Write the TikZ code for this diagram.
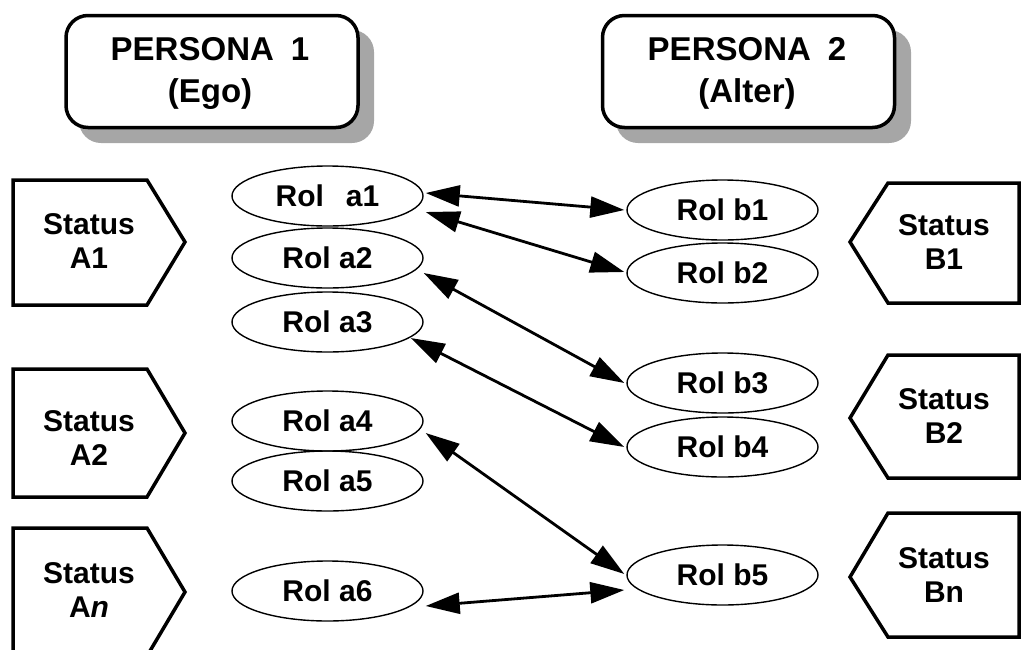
\documentclass[tikz,border=0pt]{standalone}
\usepackage{fontspec}
\setmainfont{Liberation Sans}
\usetikzlibrary{arrows.meta,shapes.geometric}

\begin{document}
\begin{tikzpicture}[x=1pt,y=-1pt,
  rolebox/.style={draw,ellipse,line width=1.4pt,minimum width=191pt,minimum height=60pt,
    inner sep=0pt,font=\fontsize{30}{34}\selectfont\bfseries},
  statustext/.style={align=center,inner sep=0pt,font=\fontsize{30}{34}\selectfont\bfseries},
  statusbox/.style={draw,line width=3.5pt,line join=miter},
  personabox/.style={draw,line width=3.5pt,rounded corners=22pt,minimum width=292pt,
    minimum height=112pt,fill=white},
  personatext/.style={align=center,inner sep=0pt,font=\fontsize{33}{42}\selectfont\bfseries},
  shadowfill/.style={fill=black!35,rounded corners=22pt},
  link/.style={line width=2.8pt,
    {Triangle[length=34pt,width=21pt]}-{Triangle[length=34pt,width=21pt]}}
]
\useasboundingbox (0,0) rectangle (1023,649);
\clip (0,0) rectangle (1023,649);

% person boxes with their drop shadows
\fill[shadowfill] (79,30) rectangle (374,143);
\fill[shadowfill] (616,30) rectangle (911,143);
\node[personabox] (p1) at (212,71.5) {};
\node[personabox] (p2) at (748.5,71.5) {};
\node[personatext] (p1t) at (210,73) {PERSONA\hspace{17pt}1\\(Ego)};
\node[personatext] (p2t) at (747,73) {PERSONA\hspace{17pt}2\\(Alter)};

% status tags, left column points right
\draw[statusbox] (13,180) -- (147,180) -- (185,242) -- (147,305) -- (13,305) -- cycle;
\draw[statusbox] (13,369) -- (147,369) -- (185,433) -- (147,497) -- (13,497) -- cycle;
\draw[statusbox] (13,670) -- (13,528) -- (147,528) -- (185,592) -- (147,656);
\node[statustext] (sA1) at (89,241) {Status\\A1};
\node[statustext] (sA2) at (89,438) {Status\\A2};
\node[statustext] (sAn) at (89,590) {Status\\A\textit{n}};

% status tags, right column points left
\draw[statusbox] (1019,183) -- (888,183) -- (850,242) -- (888,303) -- (1019,303) -- cycle;
\draw[statusbox] (1019,355) -- (888,355) -- (850,418) -- (888,478) -- (1019,478) -- cycle;
\draw[statusbox] (1019,513) -- (888,513) -- (850,577) -- (888,637) -- (1019,637) -- cycle;
\node[statustext] (sB1) at (944,242) {Status\\B1};
\node[statustext] (sB2) at (944,416) {Status\\B2};
\node[statustext] (sBn) at (944,575) {Status\\Bn};

% roles of person 1
\node[rolebox] (a1) at (327.5,196) {Rol\hspace{22pt}a1};
\node[rolebox] (a2) at (327.5,258) {Rol a2};
\node[rolebox] (a3) at (327.5,322) {Rol a3};
\node[rolebox] (a4) at (327.5,421) {Rol a4};
\node[rolebox] (a5) at (327.5,481) {Rol a5};
\node[rolebox] (a6) at (327.5,591) {Rol a6};

% roles of person 2
\node[rolebox] (b1) at (722.5,210) {Rol b1};
\node[rolebox] (b2) at (722.5,273) {Rol b2};
\node[rolebox] (b3) at (722.5,383) {Rol b3};
\node[rolebox] (b4) at (722.5,447) {Rol b4};
\node[rolebox] (b5) at (722.5,575) {Rol b5};

% reciprocal role relations
\draw[link] ([shift={(2,-3)}]a1.east) -- ([shift={(-2,0)}]b1.west);
\draw[link] ([shift={(2,16)}]a1.east) -- ([shift={(-2,-1)}]b2.west);
\draw[link] ([shift={(0,15)}]a2.east) -- ([shift={(-2,0)}]b3.west);
\draw[link] ([shift={(-13,16)}]a3.east) -- ([shift={(-2,0)}]b4.west);
\draw[link] ([shift={(2,12)}]a4.east) -- ([shift={(-2,-1)}]b5.west);
\draw[link] ([shift={(2,15)}]a6.east) -- ([shift={(-2,15)}]b5.west);
\end{tikzpicture}
\end{document}
